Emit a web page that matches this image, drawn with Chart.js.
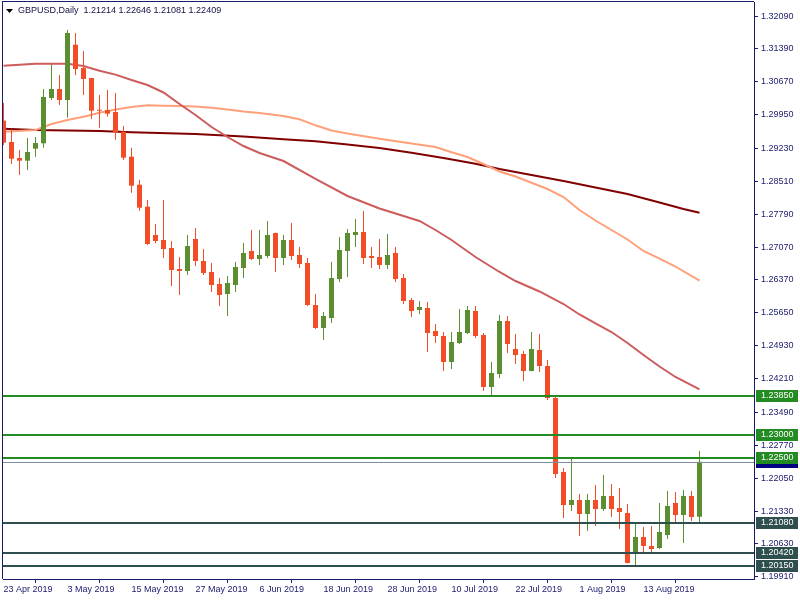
<!DOCTYPE html>
<html>
<head>
<meta charset="utf-8">
<script src="https://cdn.jsdelivr.net/npm/chart.js@4.4.0/dist/chart.umd.min.js"></script>
<style>
html, body { margin: 0; padding: 0; background: #fff; }
</style>
</head>
<body>
<canvas id="chart" width="800" height="600"></canvas>
<script>
// GBPUSD daily, 23 Apr 2019 .. 22 Aug 2019 (bar index 0..87)
const open = [1.29826,1.29362,1.29014,1.28956,1.29217,1.29334,1.30319,1.30515,1.30276,1.31478,
  1.30971,1.30754,1.30058,1.30058,1.30015,1.29586,1.29043,1.28434,1.27956,1.27340,
  1.27231,1.27057,1.26601,1.26557,1.27253,1.26775,1.26536,1.26275,1.26057,1.26253,
  1.26623,1.26992,1.26818,1.26884,1.27384,1.26840,1.27231,1.26905,1.26731,1.25818,
  1.25318,1.25535,1.26383,1.26992,1.27340,1.27405,1.26884,1.26862,1.26688,1.26949,
  1.26405,1.25927,1.25709,1.25753,1.25253,1.25144,1.24579,1.24992,1.25209,1.25688,
  1.25166,1.24035,1.24318,1.25470,1.24861,1.24753,1.24383,1.24840,1.24492,1.23796,
  1.22187,1.21469,1.21578,1.21274,1.21578,1.21382,1.21665,1.21404,1.21295,1.20447,
  1.20774,1.20578,1.20534,1.20817,1.21513,1.21252,1.21665,1.21214];
const high = [1.30210,1.29639,1.29188,1.29449,1.29471,1.30515,1.31052,1.30819,1.31798,1.31732,
  1.31341,1.30760,1.30384,1.30493,1.30428,1.29710,1.29238,1.28543,1.28101,1.27579,
  1.28101,1.27210,1.26862,1.27340,1.27492,1.27036,1.26731,1.26405,1.26449,1.26753,
  1.27166,1.27449,1.27449,1.27645,1.27390,1.27340,1.27601,1.27079,1.26840,1.26057,
  1.25666,1.26753,1.27297,1.27471,1.27688,1.27862,1.27079,1.27253,1.27362,1.27079,
  1.26492,1.25970,1.25905,1.25883,1.25405,1.25231,1.25231,1.25731,1.25796,1.25796,
  1.25209,1.24579,1.25601,1.25579,1.25188,1.24818,1.25231,1.25188,1.24622,1.23839,
  1.22274,1.22513,1.21709,1.21709,1.21904,1.22122,1.21926,1.21839,1.21491,1.21100,
  1.20991,1.21013,1.21513,1.21774,1.21752,1.21795,1.21774,1.22646];
const low = [1.29297,1.28884,1.28645,1.28754,1.29043,1.29238,1.30276,1.30167,1.29891,1.30813,
  1.30384,1.29862,1.29673,1.29912,1.29412,1.28971,1.28260,1.27869,1.27123,1.27160,
  1.26840,1.26231,1.26036,1.26470,1.26666,1.26470,1.26101,1.25796,1.25579,1.26101,
  1.26405,1.26797,1.26688,1.26840,1.26536,1.26688,1.26797,1.26623,1.25796,1.25296,
  1.25057,1.25427,1.26318,1.26427,1.27079,1.26710,1.26623,1.26601,1.26601,1.26318,
  1.25840,1.25557,1.25622,1.24796,1.24992,1.24383,1.24427,1.24970,1.25188,1.25101,
  1.23948,1.23818,1.24231,1.24774,1.24535,1.24166,1.24375,1.24361,1.23752,1.22056,
  1.21187,1.21339,1.20795,1.20904,1.21013,1.21339,1.21208,1.20947,1.20200,1.20143,
  1.20426,1.20447,1.20513,1.20730,1.21056,1.20643,1.21121,1.21081];
const close = [1.29347,1.28999,1.28956,1.29145,1.29341,1.30341,1.30515,1.30276,1.31732,1.30950,
  1.30732,1.30043,1.30043,1.29978,1.29573,1.29021,1.28412,1.27934,1.27144,1.27210,
  1.27036,1.26579,1.26557,1.27101,1.26775,1.26514,1.26253,1.26036,1.26296,1.26644,
  1.26949,1.26818,1.26905,1.27340,1.26840,1.27231,1.26884,1.26710,1.25818,1.25318,
  1.25579,1.26405,1.27014,1.27384,1.27405,1.26840,1.26840,1.26688,1.26905,1.26383,
  1.25905,1.25688,1.25775,1.25209,1.25144,1.24579,1.25014,1.25231,1.25709,1.25144,
  1.24035,1.24340,1.25470,1.24970,1.24731,1.24383,1.24861,1.24492,1.23796,1.22143,
  1.21469,1.21578,1.21274,1.21578,1.21382,1.21665,1.21382,1.21317,1.20208,1.20774,
  1.20578,1.20513,1.20882,1.21448,1.21252,1.21665,1.21208,1.22409];

// moving averages at some bars
const maFastBars = [0,4,8,10,12,14,16,18,20,22,24,26,28,30,32,35,39,43,47,52,54,56,59,62,64,67,70,72,74,76,78,80,82,84,87];
const maFast = [1.31021,1.31063,1.31065,1.31015,1.30913,1.30828,1.30710,1.30602,1.30439,1.30189,
  1.29949,1.29689,1.29471,1.29275,1.29123,1.28949,1.28558,1.28188,1.27916,1.27645,
  1.27449,1.27231,1.26862,1.26536,1.26340,1.26112,1.25840,1.25612,1.25416,1.25231,
  1.24992,1.24731,1.24481,1.24253,1.23985];
const maMidBars = [0,4,6,8,10,12,14,16,18,20,22,24,26,28,30,32,35,37,39,41,43,47,51,54,56,58,60,62,64,66,68,70,72,74,76,78,80,82,84,87];
const maMid = [1.29586,1.29623,1.29754,1.29841,1.29912,1.29999,1.30069,1.30123,1.30160,1.30150,
  1.30145,1.30134,1.30108,1.30069,1.30026,1.29993,1.29928,1.29856,1.29725,1.29612,
  1.29547,1.29434,1.29330,1.29254,1.29138,1.29036,1.28884,1.28721,1.28612,1.28477,
  1.28340,1.28166,1.27884,1.27655,1.27449,1.27242,1.26992,1.26825,1.26655,1.26346];
const maSlowBars = [0,4,12,16,24,30,35,39,43,47,51,55,59,62,66,70,74,78,82,85,87];
const maSlow = [1.29652,1.29623,1.29602,1.29573,1.29536,1.29482,1.29421,1.29378,1.29308,1.29232,
  1.29130,1.29014,1.28891,1.28775,1.28645,1.28514,1.28373,1.28232,1.28047,1.27906,1.27825];

// price levels
const greenLevels = [1.23850, 1.23000, 1.22500];
const slateLevels = [1.21080, 1.20420, 1.20150];
const bidPrice = 1.22409;

// axis labels
const yTicks = [1.32090,1.31390,1.30670,1.29950,1.29230,1.28510,1.27790,1.27070,1.26370,
  1.25650,1.24930,1.24210,1.23490,1.22770,1.22050,1.21330,1.20630,1.19910];
const xTickBars = [0,8,16,24,32,40,48,56,64,72,80];
const xTickLabels = ['23 Apr 2019','3 May 2019','15 May 2019','27 May 2019','6 Jun 2019',
  '18 Jun 2019','28 Jun 2019','10 Jul 2019','22 Jul 2019','1 Aug 2019','13 Aug 2019'];

const title = 'GBPUSD,Daily  1.21214 1.22646 1.21081 1.22409';

const axisColor = '#1b1b6b';
const upColor = '#5b8e30';
const downColor = '#f24d26';
const fontFamily = "Tahoma, 'Liberation Sans', Arial, sans-serif";

const candleColors = open.map((o, i) => close[i] > o ? upColor : downColor);

function pts(bars, vals) {
  return bars.map((b, i) => ({ x: b, y: vals[i] }));
}

const overlay = {
  id: 'overlay',
  afterDatasetsDraw(chart) {
    const ctx = chart.ctx, a = chart.chartArea, ys = chart.scales.y;
    ctx.save();
    ctx.beginPath();
    ctx.rect(a.left, a.top, a.right - a.left, a.bottom - a.top);
    ctx.clip();
    let py = Math.round(ys.getPixelForValue(bidPrice)) + 0.5;
    ctx.strokeStyle = '#7f8c99';
    ctx.lineWidth = 1;
    ctx.beginPath(); ctx.moveTo(a.left, py); ctx.lineTo(a.right, py); ctx.stroke();
    ctx.lineWidth = 2;
    greenLevels.forEach(v => {
      py = Math.round(ys.getPixelForValue(v));
      ctx.strokeStyle = '#228b22';
      ctx.beginPath(); ctx.moveTo(a.left, py); ctx.lineTo(a.right, py); ctx.stroke();
    });
    slateLevels.forEach(v => {
      py = Math.round(ys.getPixelForValue(v));
      ctx.strokeStyle = '#2f4f4f';
      ctx.beginPath(); ctx.moveTo(a.left, py); ctx.lineTo(a.right, py); ctx.stroke();
    });
    ctx.restore();
  },
  afterDraw(chart) {
    const ctx = chart.ctx, a = chart.chartArea, ys = chart.scales.y;
    ctx.save();
    ctx.font = '9px ' + fontFamily;
    ctx.textBaseline = 'middle';
    ctx.textAlign = 'left';
    function tag(v, bg) {
      const py = Math.round(ys.getPixelForValue(v));
      ctx.fillStyle = bg;
      ctx.fillRect(a.right + 2, py - 6, 42, 12);
      ctx.fillStyle = '#ffffff';
      ctx.fillText(v.toFixed(5), a.right + 7, py);
    }
    tag(bidPrice, '#000080');
    greenLevels.forEach(v => tag(v, '#228b22'));
    slateLevels.forEach(v => tag(v, '#2f4f4f'));

    // frame
    ctx.fillStyle = axisColor;
    ctx.fillRect(2, 1, a.right - 2, 1);
    ctx.fillRect(2, 1, 1, a.bottom - 1);

    // title
    ctx.fillStyle = '#000000';
    ctx.beginPath();
    ctx.moveTo(6, 9); ctx.lineTo(13, 9); ctx.lineTo(9.5, 13); ctx.closePath();
    ctx.fill();
    ctx.fillStyle = '#111144';
    ctx.fillText(title, 18, 11);
    ctx.restore();
  }
};

new Chart(document.getElementById('chart'), {
  type: 'bar',
  data: {
    datasets: [
      {
        type: 'bar', label: 'body', order: 1,
        data: open.map((o, i) => ({ x: i, y: [o, close[i]] })),
        backgroundColor: candleColors, barThickness: 5, grouped: false,
        minBarLength: 1, inflateAmount: 0, borderWidth: 0
      },
      {
        type: 'bar', label: 'wick', order: 2,
        data: high.map((h, i) => ({ x: i, y: [low[i], h] })),
        backgroundColor: candleColors, barThickness: 1, grouped: false,
        inflateAmount: 0, borderWidth: 0
      },
      {
        type: 'line', label: 'MA fast', order: 3,
        data: pts(maFastBars, maFast),
        borderColor: '#cd5c5c', borderWidth: 2, pointRadius: 0, tension: 0
      },
      {
        type: 'line', label: 'MA mid', order: 4,
        data: pts(maMidBars, maMid),
        borderColor: '#ffa07a', borderWidth: 2, pointRadius: 0, tension: 0
      },
      {
        type: 'line', label: 'MA slow', order: 5,
        data: pts(maSlowBars, maSlow),
        borderColor: '#800000', borderWidth: 2, pointRadius: 0, tension: 0
      }
    ]
  },
  options: {
    responsive: false,
    animation: false,
    layout: { padding: { top: 2, left: 3, right: 0, bottom: 0 } },
    plugins: { legend: { display: false }, tooltip: { enabled: false } },
    scales: {
      x: {
        type: 'linear', min: -0.0625, max: 93.8125, offset: false,
        grid: { drawOnChartArea: false, drawTicks: true, tickLength: 4, color: axisColor },
        border: { display: true, color: axisColor },
        ticks: {
          autoSkip: false, maxRotation: 0, align: 'start', padding: 1,
          color: axisColor, font: { family: fontFamily, size: 9 },
          callback: (v, i) => xTickLabels[i]
        },
        afterBuildTicks: s => { s.ticks = xTickBars.map(v => ({ value: v })); },
        afterFit: s => { s.height = 21; s.paddingLeft = 0; s.paddingRight = 0; }
      },
      y: {
        position: 'right', min: 1.198602, max: 1.324065, beginAtZero: false,
        grid: { drawOnChartArea: false, drawTicks: true, tickLength: 4, color: axisColor },
        border: { display: true, color: axisColor },
        ticks: {
          padding: 3, color: axisColor, font: { family: fontFamily, size: 9 },
          callback: v => v.toFixed(5)
        },
        afterBuildTicks: s => { s.ticks = yTicks.map(v => ({ value: v })); },
        afterFit: s => { s.width = 46; s.paddingTop = 0; s.paddingBottom = 0; }
      }
    }
  },
  plugins: [overlay]
});
</script>
</body>
</html>
